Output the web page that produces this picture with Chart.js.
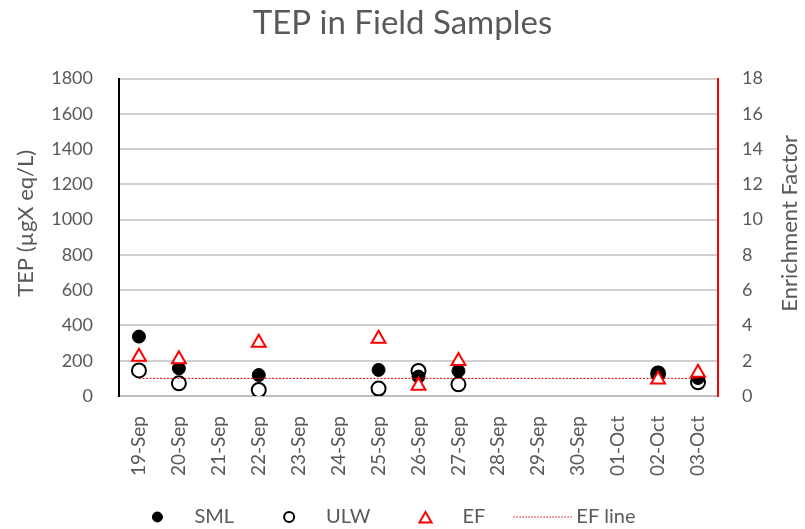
<!DOCTYPE html>
<html>
<head>
<meta charset="utf-8">
<script src="https://cdn.jsdelivr.net/npm/chart.js@4"></script>
<style>
  html, body { margin: 0; padding: 0; background: #fff; }
  #wrap { width: 805px; height: 529px; }
</style>
</head>
<body>
<div id="wrap"><canvas id="grafico" width="805" height="529"></canvas></div>
<script>
const datas = ['19-Sep', '20-Sep', '21-Sep', '22-Sep', '23-Sep', '24-Sep', '25-Sep', '26-Sep',
               '27-Sep', '28-Sep', '29-Sep', '30-Sep', '01-Oct', '02-Oct', '03-Oct'];
const sml = [337, 157, null, 119, null, null, 148, 110, 142, null, null, null, null, 132, 102];
const ulw = [145, 72, null, 34, null, null, 42, 142, 66, null, null, null, null, 128, 78];
const ef = [2.23, 2.08, null, 3.02, null, null, 3.25, 0.58, 1.98, null, null, null, null, 0.94, 1.32];
const efLinha = [1, 1, 1, 1, 1, 1, 1, 1, 1, 1, 1, 1, 1, 1, 1];

const tituloEsq = 'TEP (µgX eq/L)';
const tituloDir = 'Enrichment Factor';

const cinza = '#595959';
const fonte = 'Lato, "Liberation Sans", sans-serif';

// titulos dos eixos e legenda desenhados no canvas, como no Excel
const legendaPlugin = {
    id: 'legendaExcel',
    afterDraw(chart) {
        const ctx = chart.ctx;
        const area = chart.chartArea;
        ctx.save();

        // titulos dos eixos (os dois lidos de baixo para cima)
        ctx.fillStyle = cinza;
        ctx.font = '22px ' + fonte;
        ctx.textAlign = 'center';
        ctx.textBaseline = 'middle';
        const meio = (area.top + area.bottom) / 2 - 14;
        [[26, tituloEsq], [790, tituloDir]].forEach(([x, txt]) => {
            ctx.save();
            ctx.translate(x, meio);
            ctx.rotate(-Math.PI / 2);
            ctx.fillText(txt, 0, 0);
            ctx.restore();
        });

        // legenda
        const y = chart.height - 12;
        ctx.font = '20px ' + fonte;
        ctx.textAlign = 'left';
        const itens = chart.data.datasets.map(ds => {
            const linha = ds.pointRadius === 0;
            return {
                ds, linha,
                antes: linha ? 28 : 45,
                caixa: linha ? 59 : 20,
                gap: linha ? 4 : 27,
                texto: ctx.measureText(ds.label).width
            };
        });
        const total = itens.reduce((acc, it, i) => acc + (i ? it.antes : 0) + it.caixa + it.gap + it.texto, 0);
        let x = (chart.width - total) / 2 - 11;
        itens.forEach((it, i) => {
            const ds = it.ds;
            if (i) x += it.antes;
            if (it.linha) {
                ctx.strokeStyle = ds.borderColor;
                ctx.lineWidth = 1;
                ctx.setLineDash([1.5, 1.5]);
                ctx.beginPath();
                ctx.moveTo(x, y);
                ctx.lineTo(x + it.caixa, y);
                ctx.stroke();
                ctx.setLineDash([]);
            } else {
                ctx.fillStyle = ds.backgroundColor;
                ctx.strokeStyle = ds.borderColor;
                ctx.lineWidth = ds.borderWidth;
                Chart.helpers.drawPoint(ctx, {
                    pointStyle: ds.pointStyle,
                    radius: ds.pointStyle === 'triangle' ? 7 : 5,
                    borderWidth: ds.borderWidth
                }, x + it.caixa / 2, ds.pointStyle === 'triangle' ? y + 2 : y);
            }
            x += it.caixa + it.gap;
            ctx.fillStyle = cinza;
            ctx.fillText(ds.label, x, y);
            x += it.texto;
        });
        ctx.restore();
    }
};

const ctx = document.getElementById('grafico').getContext('2d');
window.meuGrafico = new Chart(ctx, {
    type: 'line',
    data: {
        labels: datas,
        datasets: [
            {
                label: 'SML', data: sml, yAxisID: 'y', showLine: false, order: 2,
                pointStyle: 'circle', pointRadius: 6.5, pointHoverRadius: 6.5,
                backgroundColor: '#000', borderColor: '#000', borderWidth: 1
            },
            {
                label: 'ULW', data: ulw, yAxisID: 'y', showLine: false, order: 3,
                pointStyle: 'circle', pointRadius: 7, pointHoverRadius: 7,
                backgroundColor: '#fff', borderColor: '#000', borderWidth: 2
            },
            {
                label: 'EF', data: ef, yAxisID: 'y1', showLine: false, order: 0,
                pointStyle: 'triangle', pointRadius: 8, pointHoverRadius: 8,
                backgroundColor: '#fff', borderColor: '#ff0000', borderWidth: 2
            },
            {
                label: 'EF line', data: efLinha, yAxisID: 'y1', order: 1,
                borderColor: '#e00000', borderWidth: 1, borderDash: [2, 1.5],
                pointRadius: 0, pointHoverRadius: 0, fill: false
            }
        ]
    },
    options: {
        responsive: false,
        animation: false,
        layout: { padding: { left: 0, right: 0, top: 4, bottom: 0 } },
        plugins: {
            legend: { display: false },
            tooltip: { enabled: false },
            title: {
                display: true,
                text: 'TEP in Field Samples',
                color: cinza,
                font: { family: fonte, size: 33, weight: 'normal' },
                padding: { top: 0, bottom: 35 }
            }
        },
        scales: {
            x: {
                offset: true,
                grid: { display: false, drawTicks: false },
                border: { color: '#bfbfbf', width: 2 },
                ticks: {
                    color: cinza, font: { family: fonte, size: 19 },
                    minRotation: 90, maxRotation: 90, padding: 20, autoSkip: false
                },
                afterFit: s => { s.height = 133; }
            },
            y: {
                position: 'left',
                min: 0, max: 1800,
                grid: { color: '#d0d0d0', lineWidth: 2, drawTicks: false },
                border: { color: '#000', width: 2 },
                ticks: {
                    stepSize: 200, color: cinza, font: { family: fonte, size: 18 }, padding: 26,
                    callback: v => String(v)
                },
                afterFit: s => { s.width = 119; }
            },
            y1: {
                position: 'right',
                min: 0, max: 18,
                grid: { display: false, drawTicks: false },
                border: { color: '#ff0000', width: 2 },
                ticks: {
                    stepSize: 2, color: cinza, font: { family: fonte, size: 18 }, padding: 24,
                    callback: v => String(v)
                },
                afterFit: s => { s.width = 87; }
            }
        }
    },
    plugins: [legendaPlugin]
});
</script>
</body>
</html>
